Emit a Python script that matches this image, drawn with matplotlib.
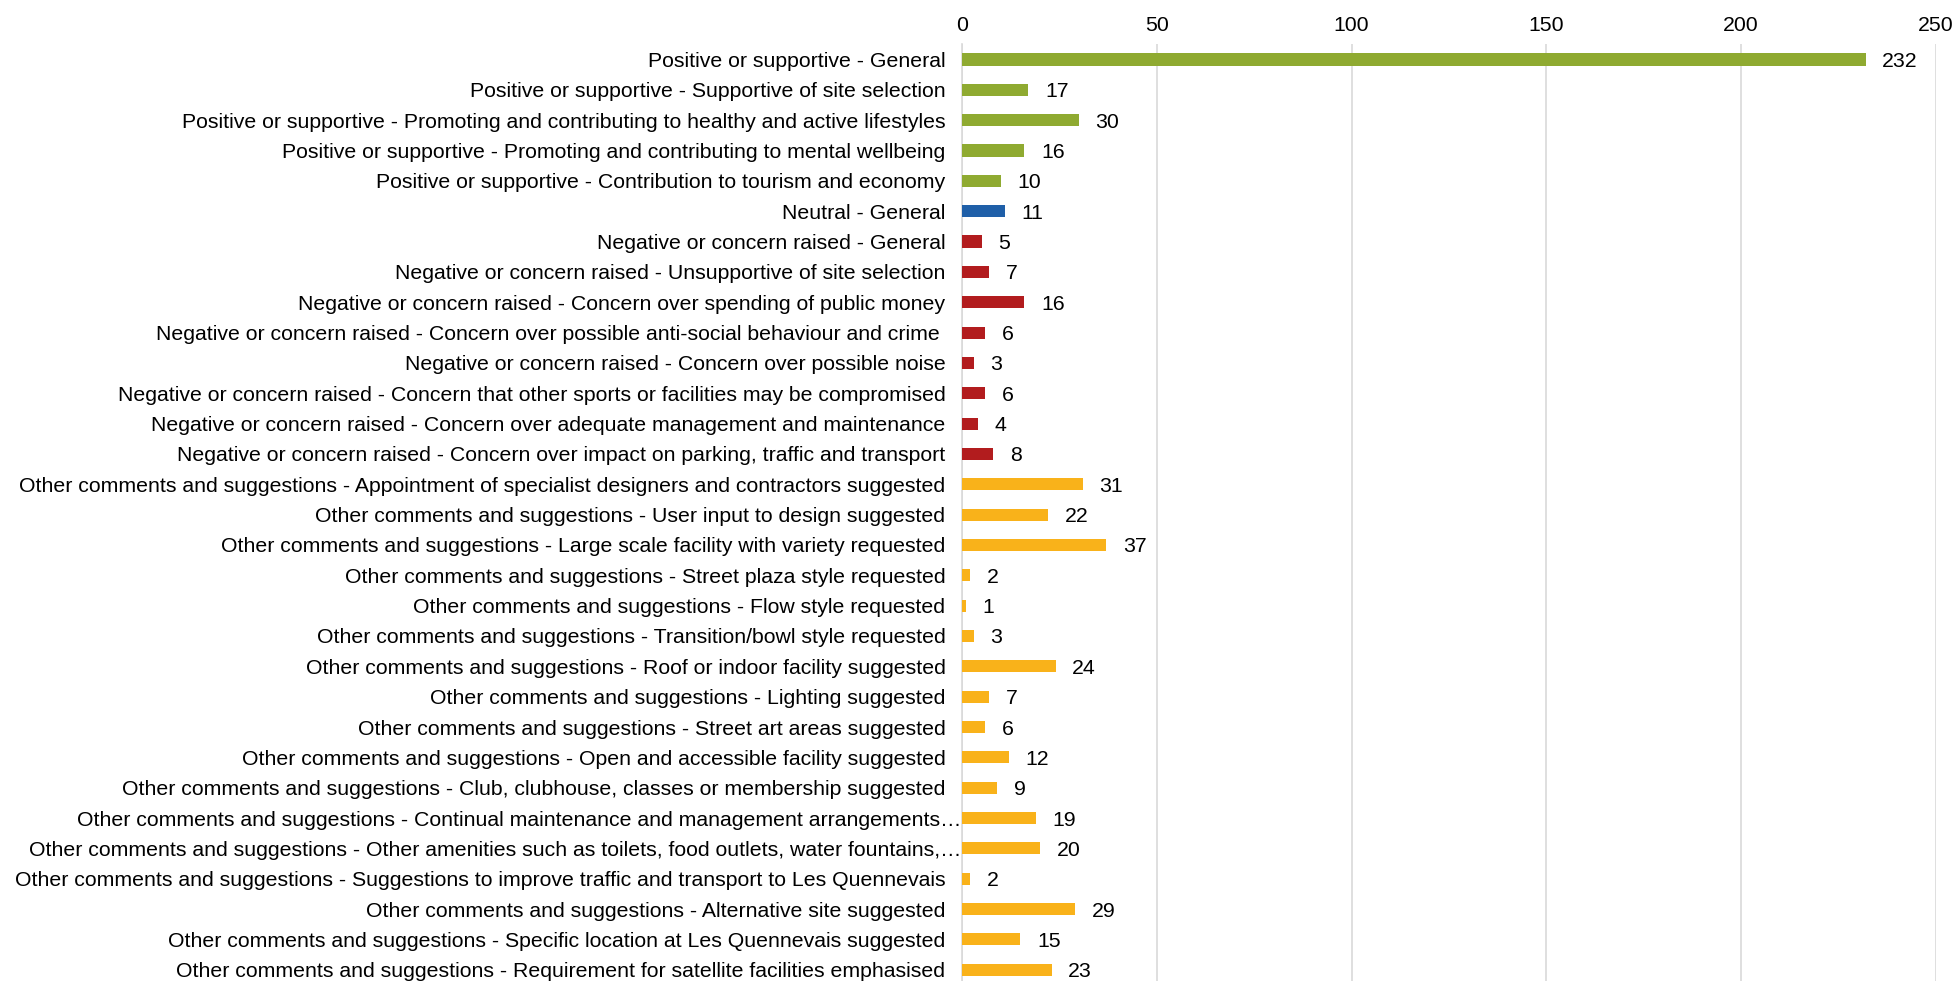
import matplotlib.pyplot as plt

plt.rcParams['font.family'] = ['Liberation Sans', 'DejaVu Sans']

categories = [
    "Positive or supportive - General",
    "Positive or supportive - Supportive of site selection",
    "Positive or supportive - Promoting and contributing to healthy and active lifestyles",
    "Positive or supportive - Promoting and contributing to mental wellbeing",
    "Positive or supportive - Contribution to tourism and economy",
    "Neutral - General",
    "Negative or concern raised - General",
    "Negative or concern raised - Unsupportive of site selection",
    "Negative or concern raised - Concern over spending of public money",
    "Negative or concern raised - Concern over possible anti-social behaviour and crime ",
    "Negative or concern raised - Concern over possible noise",
    "Negative or concern raised - Concern that other sports or facilities may be compromised",
    "Negative or concern raised - Concern over adequate management and maintenance",
    "Negative or concern raised - Concern over impact on parking, traffic and transport",
    "Other comments and suggestions - Appointment of specialist designers and contractors suggested",
    "Other comments and suggestions - User input to design suggested",
    "Other comments and suggestions - Large scale facility with variety requested",
    "Other comments and suggestions - Street plaza style requested",
    "Other comments and suggestions - Flow style requested",
    "Other comments and suggestions - Transition/bowl style requested",
    "Other comments and suggestions - Roof or indoor facility suggested",
    "Other comments and suggestions - Lighting suggested",
    "Other comments and suggestions - Street art areas suggested",
    "Other comments and suggestions - Open and accessible facility suggested",
    "Other comments and suggestions - Club, clubhouse, classes or membership suggested",
    "Other comments and suggestions - Continual maintenance and management arrangements…",
    "Other comments and suggestions - Other amenities such as toilets, food outlets, water fountains,…",
    "Other comments and suggestions - Suggestions to improve traffic and transport to Les Quennevais",
    "Other comments and suggestions - Alternative site suggested",
    "Other comments and suggestions - Specific location at Les Quennevais suggested",
    "Other comments and suggestions - Requirement for satellite facilities emphasised",
]
values = [232, 17, 30, 16, 10, 11, 5, 7, 16, 6, 3, 6, 4, 8,
          31, 22, 37, 2, 1, 3, 24, 7, 6, 12, 9, 19, 20, 2, 29, 15, 23]
groups = ["pos"] * 5 + ["neu"] + ["neg"] * 8 + ["oth"] * 17

group_colors = {"pos": "#8faa31", "neu": "#1f5fa8", "neg": "#b21c1e", "oth": "#f9b21a"}
colors = [group_colors[g] for g in groups]

fs = 15.3

fig = plt.figure(figsize=(19.57, 9.81), dpi=100)
ax = fig.add_axes([0.4916, -0.004, 0.4975, 0.9588])

y = list(range(len(categories)))
ax.barh(y, values, height=0.4, color=colors, zorder=3)

for yi, v in zip(y, values):
    ax.annotate(str(v), (v, yi), xytext=(12, 0), textcoords="offset points",
                va="center_baseline", ha="left", fontsize=fs, color="black")

ax.set_yticks(y)
ax.set_yticklabels(categories, fontsize=fs)
ax.set_ylim(len(categories) - 0.5, -0.5)
ax.set_xlim(0, 250)
ax.set_xticks([0, 50, 100, 150, 200, 250])
ax.xaxis.tick_top()
ax.tick_params(axis="x", length=0, labelsize=fs, pad=7)
ax.tick_params(axis="y", length=0, pad=12)
ax.grid(axis="x", color="#d9d9d9", linewidth=1.2, zorder=0)
for s in ["top", "right", "bottom"]:
    ax.spines[s].set_visible(False)
ax.spines["left"].set_color("#d9d9d9")
ax.spines["left"].set_linewidth(1.2)

# the two truncated labels run up to the axis line
for lbl in ax.get_yticklabels():
    if lbl.get_text().endswith("…"):
        lbl.set_x(lbl.get_position()[0] + 0.016)

fig.savefig("out.png", dpi=100)
